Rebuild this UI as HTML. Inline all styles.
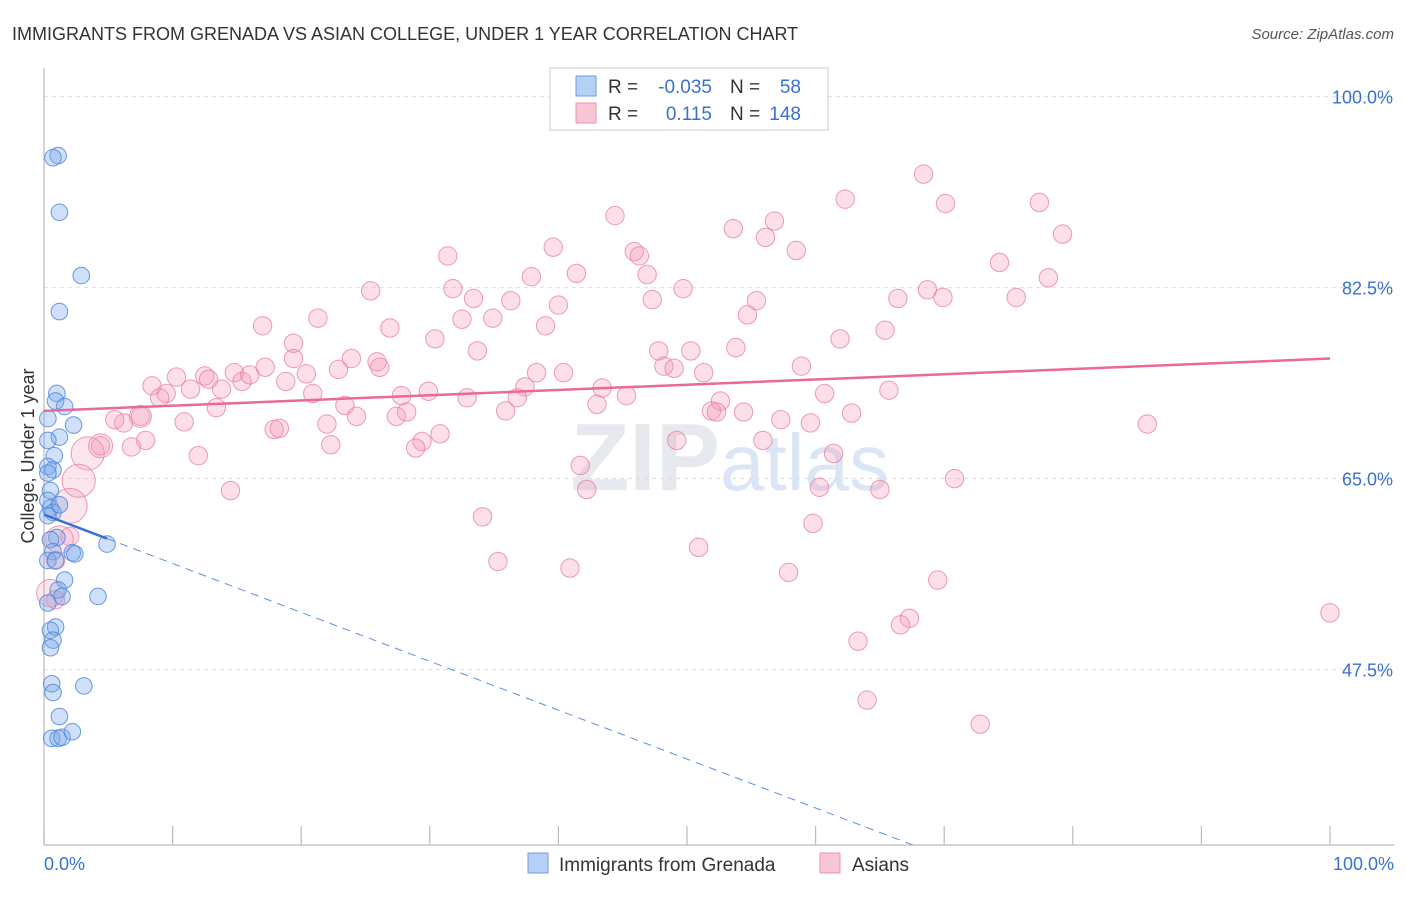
<!DOCTYPE html>
<html><head><meta charset="utf-8"><style>
body{margin:0;background:#fff;font-family:"Liberation Sans",sans-serif;}
svg text{font-family:"Liberation Sans",sans-serif;}
</style></head><body>
<svg id="chart" width="1406" height="892" xmlns="http://www.w3.org/2000/svg">
<text x="12" y="40" font-size="18" fill="#333">IMMIGRANTS FROM GRENADA VS ASIAN COLLEGE, UNDER 1 YEAR CORRELATION CHART</text>
<text x="1394" y="39" font-size="15" fill="#555" text-anchor="end" font-style="italic">Source: ZipAtlas.com</text>
<text x="720" y="490" font-size="96" fill="#e6e9ee" text-anchor="end" font-family="Liberation Serif" font-weight="bold">ZIP</text>
<text x="720" y="490" font-size="80" fill="#dbe6f5">atlas</text>
<g id="grid"></g><g id="axes"></g><g id="pts"></g><g id="trends"></g>
<text transform="translate(34,456) rotate(-90)" font-size="18" fill="#333" text-anchor="middle">College, Under 1 year</text>
<text x="44" y="870" font-size="18" fill="#3a70d0">0.0%</text>
<text x="1394" y="870" font-size="18" fill="#3a70d0" text-anchor="end">100.0%</text>
<g>
<rect x="550" y="68" width="278" height="62" fill="#fff" stroke="#ccc"/>
<rect x="576" y="76" width="20" height="20" fill="#b5d0f5" stroke="#6f9be0"/>
<rect x="576" y="103" width="20" height="20" fill="#f9c6d6" stroke="#ec93b0"/>
<text x="608" y="93" font-size="19" fill="#333">R =</text><text x="712" y="93" font-size="19" fill="#3a70d0" text-anchor="end">-0.035</text>
<text x="730" y="93" font-size="19" fill="#333">N =</text><text x="801" y="93" font-size="19" fill="#3a70d0" text-anchor="end">58</text>
<text x="608" y="120" font-size="19" fill="#333">R =</text><text x="712" y="120" font-size="19" fill="#3a70d0" text-anchor="end">0.115</text>
<text x="730" y="120" font-size="19" fill="#333">N =</text><text x="801" y="120" font-size="19" fill="#3a70d0" text-anchor="end">148</text>
</g>
<g>
<rect x="528" y="853" width="20" height="20" fill="#b5d0f5" stroke="#6f9be0"/>
<text x="559" y="871" font-size="19" fill="#333">Immigrants from Grenada</text>
<rect x="820" y="853" width="20" height="20" fill="#f9c6d6" stroke="#ec93b0"/>
<text x="852" y="871" font-size="19" fill="#333">Asians</text>
</g>
</svg>
<script>
const yTicks=[100,82.5,65,47.5];
const yTickLabels=["100.0%","82.5%","65.0%","47.5%"];
const xTicks=[0,10,20,30,40,50,60,70,80,90,100];
const pinkX=[44.4,68.4,62.3,70.1,77.4,79.2,53.6,56.8,56.1,39.6,31.4,45.9,46.3,58.5,41.4,37.9,46.9,74.3,78.1,25.4,31.8,33.4,36.3,40.0,49.7,47.3,55.4,66.4,68.7,69.9,75.6,21.3,34.9,32.5,39.0,54.7,17.0,26.9,65.4,30.4,61.9,33.7,47.8,50.3,53.8,19.4,23.9,26.1,19.4,25.9,17.2,58.9,48.2,49.0,51.3,20.4,22.9,8.4,10.3,12.5,12.8,14.8,15.4,16.0,9.5,11.4,13.8,18.8,20.9,27.8,29.9,37.4,38.3,40.4,43.4,45.3,60.7,65.7,23.4,24.3,27.4,28.2,32.9,36.8,43.0,52.6,13.4,9.0,35.9,51.9,52.3,54.4,62.8,5.5,10.9,7.5,6.2,22.0,57.3,59.6,85.8,17.9,18.3,30.8,29.4,28.9,22.3,7.9,4.4,6.8,49.2,55.9,12.0,61.4,14.5,41.7,42.2,60.3,65.0,70.8,34.1,59.8,50.9,35.3,40.9,57.9,69.5,67.3,66.6,100.0,63.3,64.0,72.8,0.9,0.9,2.0];
const pinkY=[89.1,92.9,90.6,90.2,90.3,87.4,87.9,88.6,87.1,86.2,85.4,85.8,85.4,85.9,83.8,83.5,83.7,84.8,83.4,82.2,82.4,81.5,81.3,80.9,82.4,81.4,81.3,81.5,82.3,81.6,81.6,79.7,79.7,79.6,79.0,80.0,79.0,78.8,78.6,77.8,77.8,76.7,76.7,76.7,77.0,77.4,76.0,75.2,76.0,75.7,75.2,75.3,75.3,75.1,74.7,74.6,75.0,73.5,74.3,74.4,74.1,74.7,73.9,74.5,72.8,73.2,73.2,73.9,72.8,72.6,73.0,73.4,74.7,74.7,73.3,72.6,72.8,73.1,71.7,70.7,70.7,71.1,72.4,72.4,71.8,72.1,71.5,72.4,71.2,71.2,71.1,71.1,71.0,70.4,70.2,70.7,70.1,70.0,70.4,70.1,70.0,69.5,69.6,69.1,68.4,67.8,68.1,68.5,68.0,67.9,68.5,68.5,67.1,67.3,63.9,66.2,64.0,64.2,64.0,65.0,61.5,60.9,58.7,57.4,56.8,56.4,55.7,52.2,51.6,52.7,50.1,44.7,42.5,57.5,53.9,59.7];
const pinkBigX=[3.4,2.7,2.0,1.2,0.5,4.4,7.5];
const pinkBigY=[67.3,64.8,62.5,59.4,54.5,68.0,70.7];
const pinkBigW=[1.8,1.8,1.9,1.5,1.5,1.3,1.2];
const blueX=[1.1,0.7,1.2,2.9,1.2,1.0,0.9,1.6,0.3,2.3,1.2,0.3,0.8,0.3,0.7,0.3,0.5,0.3,0.5,0.7,1.2,0.3,1.0,0.5,0.7,0.3,0.9,2.2,2.4,4.9,4.2,1.6,1.1,1.4,0.3,0.9,0.5,0.7,0.5,0.6,0.7,3.1,1.2,0.6,1.1,1.4,2.2];
const blueY=[94.6,94.4,89.4,83.6,80.3,72.8,72.1,71.6,70.5,69.9,68.8,68.5,67.1,66.1,65.8,65.5,63.9,63.0,62.3,61.9,62.6,61.6,59.6,59.4,58.3,57.5,57.5,58.2,58.1,59.0,54.2,55.7,54.8,54.2,53.6,51.4,51.1,50.2,49.5,46.2,45.4,46.0,43.2,41.2,41.2,41.3,41.8];
const blueTrend=[61.7,-0.448];
const pinkTrend=[71.2,0.048];
const NS="http://www.w3.org/2000/svg";
const X=v=>44+v*12.86, Y=v=>1188-v*10.914;
function mk(tag,attrs,parent){const e=document.createElementNS(NS,tag);for(const k in attrs)e.setAttribute(k,attrs[k]);document.getElementById(parent).appendChild(e);return e;}
yTicks.forEach((t,i)=>{
 const l=mk('line',{x1:44,x2:1394,y1:Y(t),y2:Y(t),stroke:'#ddd','stroke-dasharray':'4,4'},'grid');
 
 
 const tx=mk('text',{x:1393,y:Y(t)+7,'font-size':18,fill:'#3a70d0','text-anchor':'end'},'grid');
 tx.textContent=yTickLabels[i];
 
 
});
let a=mk('line',{x1:44,x2:44,y1:68,y2:845,stroke:'#bbb','stroke-width':1.2},'axes');


a=mk('line',{x1:44,x2:1394,y1:845,y2:845,stroke:'#bbb','stroke-width':1.2},'axes');


xTicks.forEach(t=>{const l=mk('line',{x1:X(t),x2:X(t),y1:826,y2:845,stroke:'#bbb','stroke-width':1.2},'axes');
 
 });
function dot(x,y,r,fill,stroke,name){const c=mk('circle',{cx:X(x),cy:Y(y),r:r,fill:fill,stroke:stroke,'stroke-width':1},'pts');
 
 }
pinkX.forEach((x,i)=>dot(x,pinkY[i],9.2,'rgba(244,150,180,0.3)','rgba(232,130,165,0.8)','asians-point'));
pinkBigX.forEach((x,i)=>dot(x,pinkBigY[i],9.2*pinkBigW[i],'rgba(244,150,180,0.25)','rgba(232,130,165,0.8)','asians-point'));
blueX.forEach((x,i)=>dot(x,blueY[i],8.3,'rgba(120,165,235,0.35)','rgba(80,135,220,0.85)','grenada-point'));
const bEnd=(31.4-blueTrend[0])/blueTrend[1];
let t=mk('line',{x1:X(0),y1:Y(blueTrend[0]),x2:X(4.9),y2:Y(blueTrend[0]+blueTrend[1]*4.9),stroke:'#3a6fd8','stroke-width':2.5},'trends');


t=mk('line',{x1:X(4.9),y1:Y(blueTrend[0]+blueTrend[1]*4.9),x2:X(bEnd),y2:Y(31.4),stroke:'#5b8fe0','stroke-width':1,'stroke-dasharray':'8,6'},'trends');


t=mk('line',{x1:X(0),y1:Y(pinkTrend[0]),x2:X(100),y2:Y(pinkTrend[0]+pinkTrend[1]*100),stroke:'#e8699a','stroke-width':2.5},'trends');


</script>
</body></html>
